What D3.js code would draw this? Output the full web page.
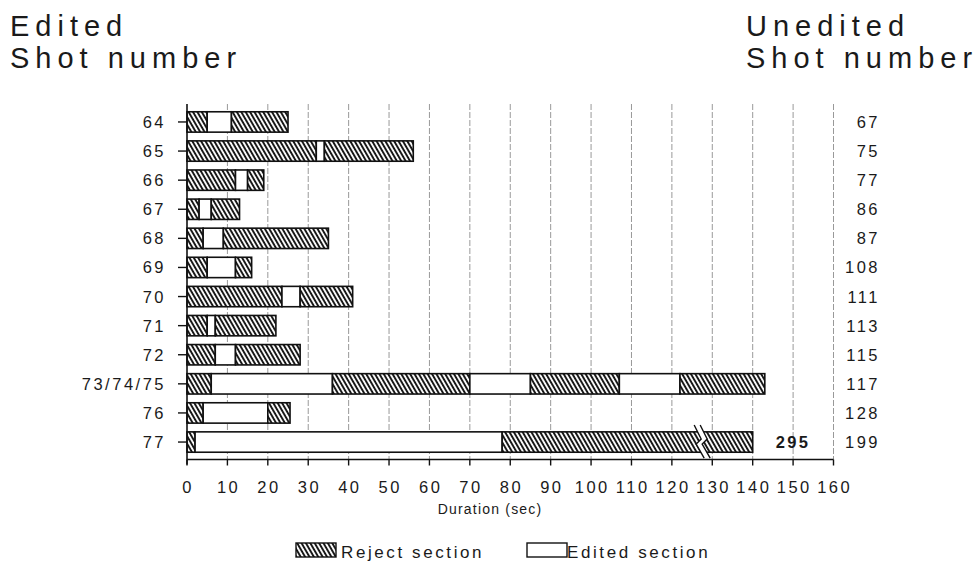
<!DOCTYPE html>
<html>
<head>
<meta charset="utf-8">
<script src="https://cdn.jsdelivr.net/npm/d3@7/dist/d3.min.js"></script>
<style>
  html, body { margin: 0; padding: 0; background: #fff; }
  svg { display: block; }
  text { font-family: "Liberation Sans", Arial, Helvetica, sans-serif; fill: #1a1a1a; }
</style>
</head>
<body>
<svg id="chart" width="978" height="564"></svg>
<script>
// Shot numbers after editing (left) and in the original footage (right)
const editedShots = ["64", "65", "66", "67", "68", "69", "70", "71", "72", "73/74/75", "76", "77"];
const uneditedShots = ["67", "75", "77", "86", "87", "108", "111", "113", "115", "117", "128", "199"];

// Cumulative section boundaries (sec) per shot; sections alternate reject / edited, starting with reject
const sectionEnds = [
  [5, 11, 25],
  [32, 34, 56],
  [12, 15, 19],
  [3, 6, 13],
  [4, 9, 35],
  [5, 12, 16],
  [23.5, 28, 41],
  [5, 7, 22],
  [7, 12, 28],
  [6, 36, 70, 85, 107, 122, 143],
  [4, 20, 25.5],
  [2, 78, 295]
];

const durationTicks = d3.range(0, 161, 10);
const sectionKinds = ["Reject section", "Edited section"];

// Shot 77 runs off the axis: its bar is broken at breakValue and its end (295 s) drawn at breakDrawnAt
const brokenShot = "77";
const breakValue = 127.5;
const breakDrawnAt = 140;

const svg = d3.select("#chart");

const x = d3.scaleLinear().domain([0, 160]).range([187, 833.5]);
const y = d3.scaleBand().domain(editedShots).range([104.5, 459.5]).paddingInner(0.3).paddingOuter(0.25);
const plotTop = 104, plotBottom = 459.5;

const tickFont = { size: "16.5px", spacing: "2.5px" };

// Diagonal hatching for reject sections
const defs = svg.append("defs");
const pat = defs.append("pattern")
  .attr("id", "hatch")
  .attr("patternUnits", "userSpaceOnUse")
  .attr("width", 3.8).attr("height", 3.8)
  .attr("patternTransform", "rotate(-30)");
pat.append("rect").attr("width", 3.8).attr("height", 3.8).attr("fill", "#fff");
pat.append("line").attr("x1", 1).attr("x2", 1).attr("y1", 0).attr("y2", 3.8)
  .attr("stroke", "#111").attr("stroke-width", 1.9);

// Vertical grid lines
svg.append("g").selectAll("line")
  .data(durationTicks.filter(d => d > 0))
  .join("line")
  .attr("x1", d => x(d)).attr("x2", d => x(d))
  .attr("y1", plotTop).attr("y2", plotBottom)
  .attr("stroke", "#999").attr("stroke-width", 1)
  .attr("stroke-dasharray", "6,2");

// Bars
const rows = editedShots.map((shot, i) => {
  const ends = sectionEnds[i];
  const sx = shot === brokenShot
    ? d3.scaleLinear().domain([0, breakValue, ends[ends.length - 1]]).range([x(0), x(breakValue), x(breakDrawnAt)])
    : x;
  const segs = ends.map((e, k) => ({ start: k === 0 ? 0 : ends[k - 1], end: e, kind: k % 2 }));
  return { shot, sx, segs, total: ends[ends.length - 1] };
});

const rowG = svg.append("g").selectAll("g")
  .data(rows)
  .join("g");

rowG.selectAll("rect")
  .data(r => r.segs.map(s => ({ ...s, sx: r.sx, shot: r.shot })))
  .join("rect")
  .attr("x", d => d.sx(d.start))
  .attr("y", d => y(d.shot))
  .attr("width", d => d.sx(d.end) - d.sx(d.start))
  .attr("height", y.bandwidth())
  .attr("fill", d => d.kind === 0 ? "url(#hatch)" : "#fff")
  .attr("stroke", "#111")
  .attr("stroke-width", 1.6);

// Break mark on the overlong bar, and its true total
const broken = rows.find(r => r.shot === brokenShot);
{
  const cx = x(breakValue), cy = y(brokenShot) + y.bandwidth() / 2;
  const zig = [[-8, -17], [-1, -3], [-6, 2], [2, 16]];
  const left = zig.map(([dx, dy]) => [cx + dx, cy + dy]);
  const right = zig.map(([dx, dy]) => [cx + dx + 6, cy + dy]);
  svg.append("path")
    .attr("d", d3.line()(left.concat(right.slice().reverse())) + "Z")
    .attr("fill", "#fff").attr("stroke", "none");
  [left, right].forEach(pts => svg.append("path")
    .attr("d", d3.line()(pts)).attr("fill", "none")
    .attr("stroke", "#111").attr("stroke-width", 1.4));
  svg.append("text")
    .attr("x", x(150)).attr("y", cy + 6)
    .attr("text-anchor", "middle")
    .style("font-size", "16.5px").style("font-weight", "bold").style("letter-spacing", "2.4px")
    .text(broken.total);
}

// Left axis with edited shot numbers
const leftAxis = svg.append("g");
leftAxis.append("line")
  .attr("x1", x(0)).attr("x2", x(0)).attr("y1", plotTop).attr("y2", plotBottom + 5)
  .attr("stroke", "#111").attr("stroke-width", 1.6);
leftAxis.selectAll(".tk").data(editedShots).join("line")
  .attr("x1", x(0) - 9).attr("x2", x(0))
  .attr("y1", d => y(d) + y.bandwidth() / 2).attr("y2", d => y(d) + y.bandwidth() / 2)
  .attr("stroke", "#111").attr("stroke-width", 1.4);
leftAxis.selectAll("text").data(editedShots).join("text")
  .attr("x", 166).attr("y", d => y(d) + y.bandwidth() / 2 + 6)
  .attr("text-anchor", "end")
  .style("font-size", tickFont.size).style("letter-spacing", tickFont.spacing)
  .text(d => d);

// Right column of unedited shot numbers
svg.append("g").selectAll("text").data(uneditedShots).join("text")
  .attr("x", 880).attr("y", (d, i) => y(editedShots[i]) + y.bandwidth() / 2 + 6)
  .attr("text-anchor", "end")
  .style("font-size", tickFont.size).style("letter-spacing", tickFont.spacing)
  .text(d => d);

// Bottom axis
const bottom = svg.append("g");
bottom.append("line")
  .attr("x1", x(0)).attr("x2", x(160)).attr("y1", plotBottom).attr("y2", plotBottom)
  .attr("stroke", "#111").attr("stroke-width", 1.6);
bottom.selectAll(".tk").data(durationTicks).join("line")
  .attr("x1", d => x(d)).attr("x2", d => x(d))
  .attr("y1", plotBottom).attr("y2", plotBottom + 6)
  .attr("stroke", "#111").attr("stroke-width", 1.4);
bottom.selectAll("text").data(durationTicks).join("text")
  .attr("x", d => x(d) + 1.2).attr("y", plotBottom + 33.5)
  .attr("text-anchor", "middle")
  .style("font-size", tickFont.size).style("letter-spacing", tickFont.spacing)
  .text(d => d);
svg.append("text")
  .attr("x", x(75)).attr("y", plotBottom + 54)
  .attr("text-anchor", "middle")
  .style("font-size", "14px").style("letter-spacing", "1.2px")
  .text("Duration (sec)");

// Column titles
[["Edited", "Shot number", 10], ["Unedited", "Shot number", 746]].forEach(([l1, l2, tx]) => {
  const t = svg.append("text").style("font-size", "29px").style("letter-spacing", "6px");
  t.append("tspan").attr("x", tx).attr("y", 36).text(l1);
  t.append("tspan").attr("x", tx).attr("y", 68).text(l2);
});

// Legend
const legend = svg.append("g");
const legendItems = [
  { kind: 0, label: sectionKinds[0], sx: 296, tx: 341 },
  { kind: 1, label: sectionKinds[1], sx: 527, tx: 567 }
];
legendItems.forEach(it => {
  legend.append("rect")
    .attr("x", it.sx).attr("y", 543).attr("width", 40).attr("height", 14)
    .attr("fill", it.kind === 0 ? "url(#hatch)" : "#fff")
    .attr("stroke", "#111").attr("stroke-width", 1.4);
  legend.append("text")
    .attr("x", it.tx).attr("y", 557.5)
    .style("font-size", "17px").style("letter-spacing", "2.6px")
    .text(it.label);
});
</script>
</body>
</html>
